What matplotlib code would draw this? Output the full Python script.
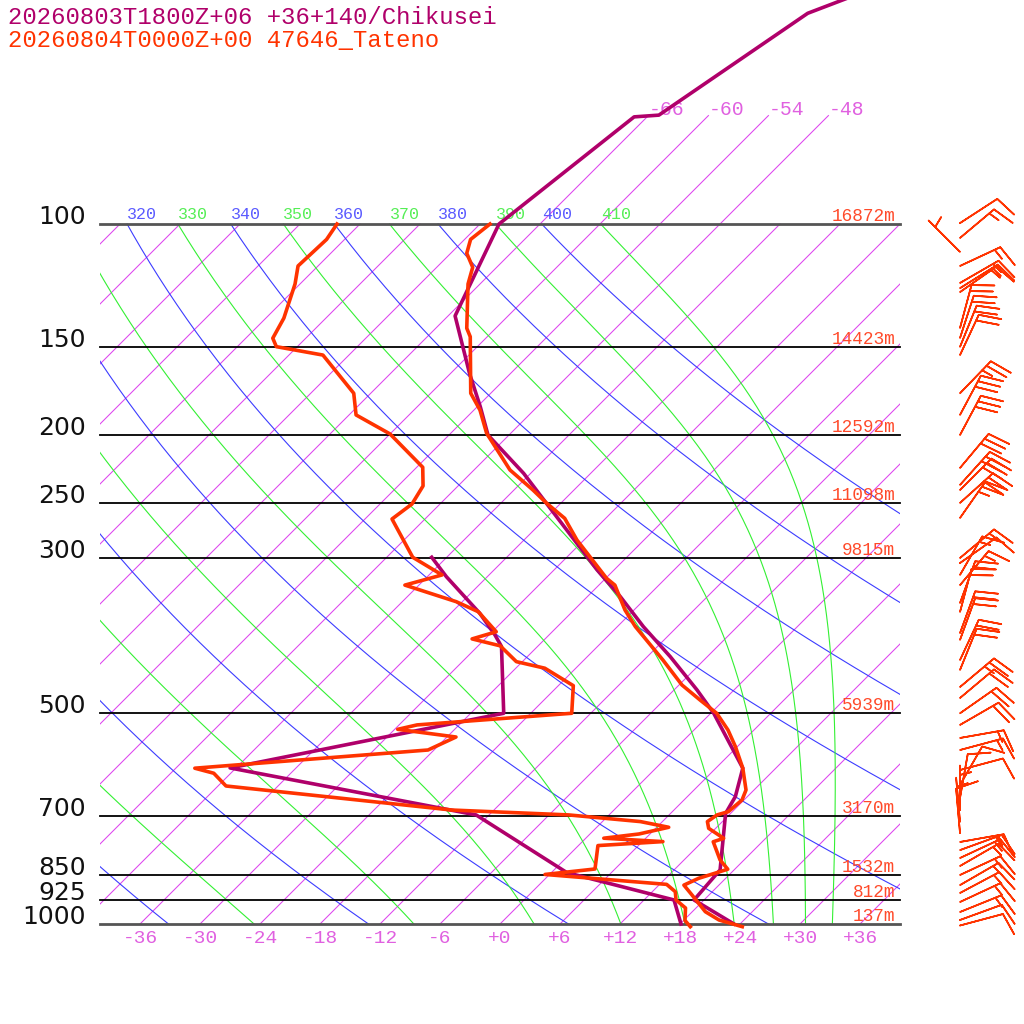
import numpy as np
import matplotlib
matplotlib.use("Agg")
import matplotlib.pyplot as plt

# ---- values (hPa, deg C) ----
obs_t_p = [100, 105.2, 110.1, 115.3, 121.8, 140.9, 144.9, 174.5, 184.4, 199.1,
           224.6, 239.9, 250.6, 263.3, 282.8, 320.8, 328.0, 356.0, 376.0, 419.7,
           455.6, 478.6, 500.0, 528.3, 557.9, 599.0, 643.5, 665.0, 691.0, 698.5,
           714.0, 730.0, 754.4, 763.0, 810.0, 835.1, 860.4, 879.9, 909.0, 960.3,
           986.9, 1008.9]
obs_t = [-71.0, -71.4, -70.4, -68.4, -67.2, -62.9, -61.7, -56.0, -53.4, -50.4,
         -44.4, -40.1, -37.4, -34.1, -30.7, -23.9, -22.4, -18.9, -16.2, -10.1,
         -5.7, -2.4, 0.6, 3.4, 5.8, 8.7, 11.2, 11.8, 11.6, 10.8,
         10.5, 11.3, 13.8, 13.1, 15.6, 17.3, 15.3, 14.5, 16.3, 19.3,
         21.5, 24.5]

obs_td_p = [100, 105.2, 114.8, 121.8, 136.3, 145.6, 149.7, 153.9, 174.5, 187.4,
            199.5, 222.6, 236.7, 251.2, 263.9, 299.3, 317.2, 328.0, 346.4, 358.0,
            382.4, 391.5, 400.5, 421.9, 431.1, 456.6, 500.0, 519.5, 527.1, 540.6,
            564.2, 599.0, 609.0, 635.1, 687.4, 698.5, 714.0, 727.5, 743.7, 754.1,
            762.6, 772.6, 834.5, 849.6, 877.8, 899.2, 924.0, 948.7, 988.5, 1008.9]
obs_td = [-86.3, -85.8, -86.0, -84.5, -82.2, -81.3, -80.1, -74.6, -67.7, -65.3,
          -60.0, -53.4, -51.5, -50.8, -51.3, -45.4, -40.7, -43.4, -36.6, -33.4,
          -29.6, -31.3, -27.8, -24.6, -21.1, -16.5, -13.9, -28.2, -29.7, -23.1,
          -24.6, -46.1, -43.7, -41.2, -16.2, -4.05, 3.8, 7.2, 4.9, 1.8,
          8.05, 1.95, 4.0, -0.45, 12.7, 14.3, 15.2, 16.95, 18.15, 19.3]

mod_t_p = [45.0, 50.0, 69.9, 70.3, 100, 135.3, 163.5, 182.4, 200.2, 227.1,
           312.0, 340.7, 376.0, 415.1, 463.1, 500.0, 599.0, 657.8, 695.0, 837.0,
           924.0, 1000.0]
mod_t = [-55.1, -60.3, -65.0, -67.3, -70.1, -65.3, -58.1, -53.7, -50.1, -42.7,
         -25.7, -20.7, -15.4, -9.7, -3.7, 0.3, 8.7, 10.8, 11.5, 16.6,
         17.0, 23.4]

mod_td_p = [299.3, 319.0, 359.8, 386.5, 401.4, 500.0, 598.5, 698.5, 844.5, 924.0, 1000.0]
mod_td = [-43.5, -40.1, -33.1, -29.4, -27.6, -20.7, -42.6, -13.3, 1.55, 15.0, 18.1]

# observed winds: pressure, direction (deg, from), speed (kt)
wind_p = [99.7, 104.7, 109.6, 114.8, 121.4, 123.5, 125.1, 140.8, 145.5, 149.8,
          153.9, 174.5, 187.4, 200.2, 223.1, 235.9, 239.9, 250.3, 263.0, 300.0,
          305.0, 317.2, 328.0, 347.9, 358.3, 384.1, 392.8, 419.7, 433.6, 458.6,
          475.5, 500.0, 519.5, 542.3, 564.2, 602.6, 633.0, 660.7, 687.4, 714.8,
          741.3, 763.5, 784.2, 804.9, 826.3, 851.1, 879.9, 903.0, 930.2, 961.3,
          986.9, 1005.0]
wind_dir = [57, 50, 315, 65, 60, 58, 55, 15, 18, 22,
            25, 44, 28, 28, 40, 42, 45, 48, 35, 50,
            55, 30, 40, 20, 15, 20, 20, 25, 22, 50,
            50, 55, 60, 80, 75, 75, 30, 10, 0, 355,
            355, 80, 70, 65, 60, 65, 60, 62, 65, 68,
            70, 75]
wind_spd = [10, 15, 5, 15, 15, 15, 15, 20, 20, 20,
            20, 25, 30, 30, 30, 30, 30, 30, 25, 15,
            10, 15, 15, 20, 20, 20, 20, 20, 20, 25,
            20, 20, 20, 15, 15, 10, 10, 10, 5, 5,
            10, 15, 15, 15, 15, 15, 15, 15, 15, 15,
            10, 10]

isobars = [100, 150, 200, 250, 300, 500, 700, 850, 925, 1000]
heights = ["16872m", "14423m", "12592m", "11098m", "9815m",
           "5939m", "3170m", "1532m", "812m", "137m"]
iso_top_labels = [-66, -60, -54, -48]
iso_bottom_labels = list(range(-36, 37, 6))
dry_thetas = list(range(240, 401, 20))
moist_thetas = list(range(250, 411, 20))

title_model = "20260803T1800Z+06 +36+140/Chikusei"
title_obs = "20260804T0000Z+00 47646_Tateno"

# ---- colours / fonts ----
C_MOD = "#b0006a"
C_OBS = "#ff3300"
C_ISO = "#dd44ee"
C_ISO_TXT = "#e060e0"
C_DRY = "#3c3cff"
C_MOIST = "#33f033"
MONO = "Liberation Mono"

SKEW = 70.0          # deg C of skew per decade of pressure
P_TOP = 1000 * 10 ** (-924 / 700)
P_BOT = 1000 * 10 ** (16 / 700)
RD, CP, LV, EPS = 287.04, 1005.7, 2.501e6, 0.622


def sx(t, p):
    """temperature -> skewed x coordinate"""
    return np.asarray(t, float) + SKEW * np.log10(1000.0 / np.asarray(p, float))


def sat_mix(tk, p):
    es = 6.112 * np.exp(17.67 * (tk - 273.15) / (tk - 29.65))
    return EPS * es / (p - es)


def theta_e(tk, p):
    r = sat_mix(tk, p) * 1000.0
    return (tk * (1000.0 / p) ** (0.2854 * (1 - 0.28e-3 * r))
            * np.exp((3.376 / tk - 0.00254) * r * (1 + 0.81e-3 * r)))


def moist_adiabat(the, p_levels):
    lo, hi = 200.0, 320.0
    for _ in range(60):
        mid = 0.5 * (lo + hi)
        if theta_e(mid, 1000.0) > the:
            hi = mid
        else:
            lo = mid
    tk = 0.5 * (lo + hi)
    f = lambda t, p: (RD * t + LV * sat_mix(t, p)) / (CP + LV * LV * sat_mix(t, p) * EPS / (RD * t * t))
    out = [tk]
    for p0, p1 in zip(p_levels[:-1], p_levels[1:]):
        h = np.log(p1) - np.log(p0)
        pm = np.sqrt(p0 * p1)
        k1 = f(tk, p0)
        k2 = f(tk + 0.5 * h * k1, pm)
        k3 = f(tk + 0.5 * h * k2, pm)
        k4 = f(tk + h * k3, p1)
        tk = tk + h * (k1 + 2 * k2 + 2 * k3 + k4) / 6
        out.append(tk)
    return np.array(out) - 273.15


fig = plt.figure(figsize=(10.24, 10.24), dpi=100)
ax = fig.add_axes([100 / 1024, 84 / 1024, 800 / 1024, 940 / 1024])
ax.set_yscale("log")
ax.set_xlim(-40, 40)
ax.set_ylim(P_BOT, P_TOP)
ax.axis("off")

plev = np.logspace(3, 2, 200)

# isotherms (a few run on above 100 hPa)
for t in range(-108, 37, 6):
    ptop = 70.0 if -66 <= t <= -48 else 100.0
    pp = np.array([1000.0, ptop])
    ax.plot(sx([t, t], pp), pp, color=C_ISO, lw=0.75, zorder=1)
for t in iso_top_labels:
    ax.annotate(f"{t:d}", xy=(sx(t, 70.0), 70.0), xytext=(0, 1),
                textcoords="offset pixels", ha="left", va="baseline",
                fontsize=14.2, family=MONO, color=C_ISO_TXT)
for t in iso_bottom_labels:
    ax.annotate(f"{t:+d}", xy=(t, 1000.0), xytext=(0, -6),
                textcoords="offset pixels", ha="center", va="top",
                fontsize=14, family=MONO, color=C_ISO_TXT, annotation_clip=False)

# dry adiabats
for th in dry_thetas:
    tt = th * (plev / 1000.0) ** (RD / CP) - 273.15
    ax.plot(sx(tt, plev), plev, color=C_DRY, lw=0.8, zorder=1)
    ax.annotate(str(th), xy=(sx(tt[-1], 100.0), 100.0), xytext=(0, 5),
                textcoords="offset pixels", ha="left", va="baseline",
                fontsize=12, family=MONO, color="#5a5aff", clip_on=True)

# moist adiabats
for th in moist_thetas:
    tt = moist_adiabat(th, plev)
    ax.plot(sx(tt, plev), plev, color=C_MOIST, lw=0.8, zorder=1)
    ax.annotate(str(th), xy=(sx(tt[-1], 100.0), 100.0), xytext=(0, 5),
                textcoords="offset pixels", ha="left", va="baseline",
                fontsize=12, family=MONO, color="#55ee55", clip_on=True)

# isobars, pressure and height labels
for p, z in zip(isobars, heights):
    edge = p in (100, 1000)
    ax.plot([-40, 40], [p, p], color="#555555" if edge else "black",
            lw=2.0 if edge else 1.3, zorder=2, clip_on=False)
    ax.annotate(str(p), xy=(0, p), xycoords=("axes fraction", "data"),
                xytext=(-14, 0), textcoords="offset pixels", ha="right",
                va="baseline", fontsize=18, family="DejaVu Sans", color="#111111",
                annotation_clip=False)
    ax.annotate(z, xy=(1, p), xycoords=("axes fraction", "data"),
                xytext=(-5, 3), textcoords="offset pixels", ha="right",
                va="baseline", fontsize=12.8, family=MONO, color="#ff4a2a")

# profiles
ax.plot(sx(mod_t, mod_t_p), mod_t_p, color=C_MOD, lw=2.6, zorder=4, clip_on=False)
ax.plot(sx(mod_td, mod_td_p), mod_td_p, color=C_MOD, lw=2.6, zorder=4)
ax.plot(sx(obs_t, obs_t_p), obs_t_p, color=C_OBS, lw=2.6, zorder=5)
ax.plot(sx(obs_td, obs_td_p), obs_td_p, color=C_OBS, lw=2.6, zorder=5)

# wind barbs
axb = fig.add_axes([900 / 1024, 84 / 1024, 124 / 1024, 940 / 1024])
axb.set_yscale("log")
axb.set_xlim(0, 124)
axb.set_ylim(P_BOT, P_TOP)
axb.axis("off")
rad = np.deg2rad(wind_dir)
u = -np.array(wind_spd) * np.sin(rad)
v = -np.array(wind_spd) * np.cos(rad)
axb.barbs(np.full(len(wind_p), 60.0), wind_p, u, v, length=8, color=C_OBS,
          linewidth=1.2, sizes=dict(height=0.5, spacing=0.14), clip_on=False)

fig.text(8 / 1024, 1 - 17 / 1024, title_model, family=MONO, fontsize=17.2,
         color=C_MOD, va="center", ha="left")
fig.text(8 / 1024, 1 - 41 / 1024, title_obs, family=MONO, fontsize=17.2,
         color=C_OBS, va="center", ha="left")

fig.savefig("out.png", dpi=100)
